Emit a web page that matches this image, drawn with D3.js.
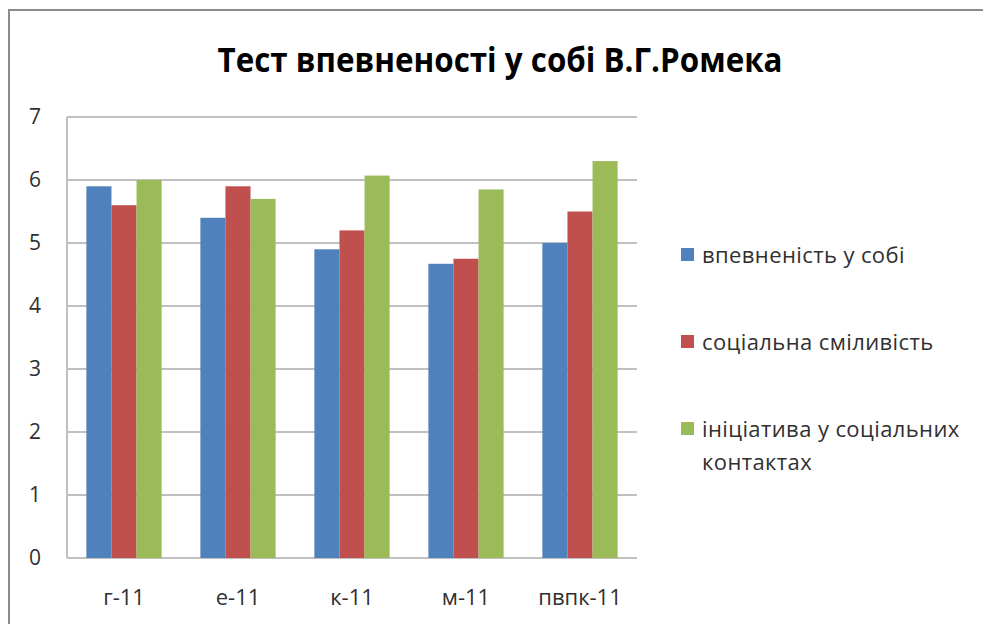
<!DOCTYPE html>
<html>
<head>
<meta charset="utf-8">
<script src="https://cdn.jsdelivr.net/npm/d3@7"></script>
<style>
	body { margin: 0; background: #fff; }
	text { font-family: "Open Sans", "Noto Sans", sans-serif; fill: #303030; }
</style>
</head>
<body>
<div class="wrapper"></div>
<script>

var categories = ["г-11", "е-11", "к-11", "м-11", "пвпк-11"];
var seriesNames = ["впевненість у собі", "соціальна сміливість", "ініціатива у соціальних контактах"];
var confidence = [5.9, 5.4, 4.9, 4.67, 5.0];
var courage = [5.6, 5.9, 5.2, 4.75, 5.5];
var initiative = [6.0, 5.7, 6.07, 5.85, 6.3];
var yTicks = [0, 1, 2, 3, 4, 5, 6, 7];
var colors = ["#4f81bd", "#c0504d", "#9bbb59"];

var series = [confidence, courage, initiative];

var WIDTH = 983,
	HEIGHT = 624,
	PLOT_LEFT = 67,
	PLOT_RIGHT = 637,
	PLOT_TOP = 117,
	PLOT_BOTTOM = 558;

var svg = d3.select(".wrapper")
	.append("svg")
		.attr("width", WIDTH)
		.attr("height", HEIGHT);

// outer chart frame, only top and left edges are in view
svg.append("path")
	.attr("d", "M9," + HEIGHT + "V10H" + WIDTH)
	.attr("fill", "none")
	.attr("stroke", "#8c8c8c")
	.attr("stroke-width", 2);

svg.append("text")
	.attr("x", 500)
	.attr("y", 72)
	.attr("text-anchor", "middle")
	.attr("font-size", 34)
	.attr("font-weight", "bold")
	.style("font-family", "'Liberation Sans Narrow', 'Open Sans', sans-serif")
	.style("fill", "#000")
	.attr("textLength", 565)
	.attr("lengthAdjust", "spacingAndGlyphs")
	.text("Тест впевненості у собі В.Г.Ромека");

var x0 = d3.scaleBand()
	.domain(categories)
	.range([PLOT_LEFT, PLOT_RIGHT])
	.paddingInner(0.34)
	.paddingOuter(0.17);

var x1 = d3.scaleBand()
	.domain([0, 1, 2])
	.range([0, x0.bandwidth()]);

var y = d3.scaleLinear()
	.domain([0, 7])
	.range([PLOT_BOTTOM, PLOT_TOP]);

// gridlines
svg.append("g")
	.selectAll("line")
	.data(yTicks)
	.enter()
	.append("line")
		.attr("x1", PLOT_LEFT)
		.attr("x2", PLOT_RIGHT)
		.attr("y1", function(d) {return y(d);})
		.attr("y2", function(d) {return y(d);})
		.attr("stroke", "#c0c0c0")
		.attr("stroke-width", 2);

svg.append("line")
	.attr("x1", PLOT_LEFT)
	.attr("x2", PLOT_LEFT)
	.attr("y1", PLOT_TOP)
	.attr("y2", PLOT_BOTTOM)
	.attr("stroke", "#c0c0c0")
	.attr("stroke-width", 2);

// bars
var groups = svg.selectAll(".group")
	.data(categories)
	.enter()
	.append("g")
		.attr("class", "group")
		.attr("transform", function(d) {return "translate(" + x0(d) + ",0)";});

groups.selectAll("rect")
	.data(function(d, i) {
		return series.map(function(s, j) {return {k: j, v: s[i]};});
	})
	.enter()
	.append("rect")
		.attr("x", function(d) {return x1(d.k);})
		.attr("y", function(d) {return y(d.v);})
		.attr("width", x1.bandwidth())
		.attr("height", function(d) {return PLOT_BOTTOM - y(d.v);})
		.attr("fill", function(d) {return colors[d.k];});

// y axis labels
var yAxis = d3.axisLeft(y).tickValues(yTicks).tickFormat(d3.format("d")).tickSize(0).tickPadding(0);
var gy = svg.append("g")
	.attr("transform", "translate(35,0)")
	.call(yAxis);
gy.select(".domain").remove();
gy.selectAll("text")
	.attr("font-size", 21)
	.attr("font-family", null)
	.attr("fill", null)
	.attr("text-anchor", "middle");

// x axis labels
var xAxis = d3.axisBottom(x0).tickSize(0).tickPadding(0);
var gx = svg.append("g")
	.attr("transform", "translate(0,605)")
	.call(xAxis);
gx.select(".domain").remove();
gx.selectAll("text")
	.attr("font-size", 22)
	.attr("dy", null)
	.attr("font-family", null)
	.attr("fill", null);

// legend
var legendY = [263, 350, 437];
var legend = svg.selectAll(".legend")
	.data(seriesNames)
	.enter()
	.append("g")
		.attr("class", "legend")
		.attr("transform", function(d, i) {return "translate(681," + legendY[i] + ")";});

legend.append("rect")
	.attr("x", 0)
	.attr("y", -15)
	.attr("width", 13)
	.attr("height", 13)
	.attr("fill", function(d, i) {return colors[i];});

legend.append("text")
	.attr("x", 21)
	.attr("y", 0)
	.attr("font-size", 22)
	.style("letter-spacing", "0.4px")
	.each(function(d) {
		var t = d3.select(this);
		if (d.length > 25) {
			t.append("tspan").attr("x", 21).text("ініціатива у соціальних");
			t.append("tspan").attr("x", 21).attr("dy", 33).text("контактах");
		} else {
			t.text(d);
		}
	});

</script>
</body>
</html>
